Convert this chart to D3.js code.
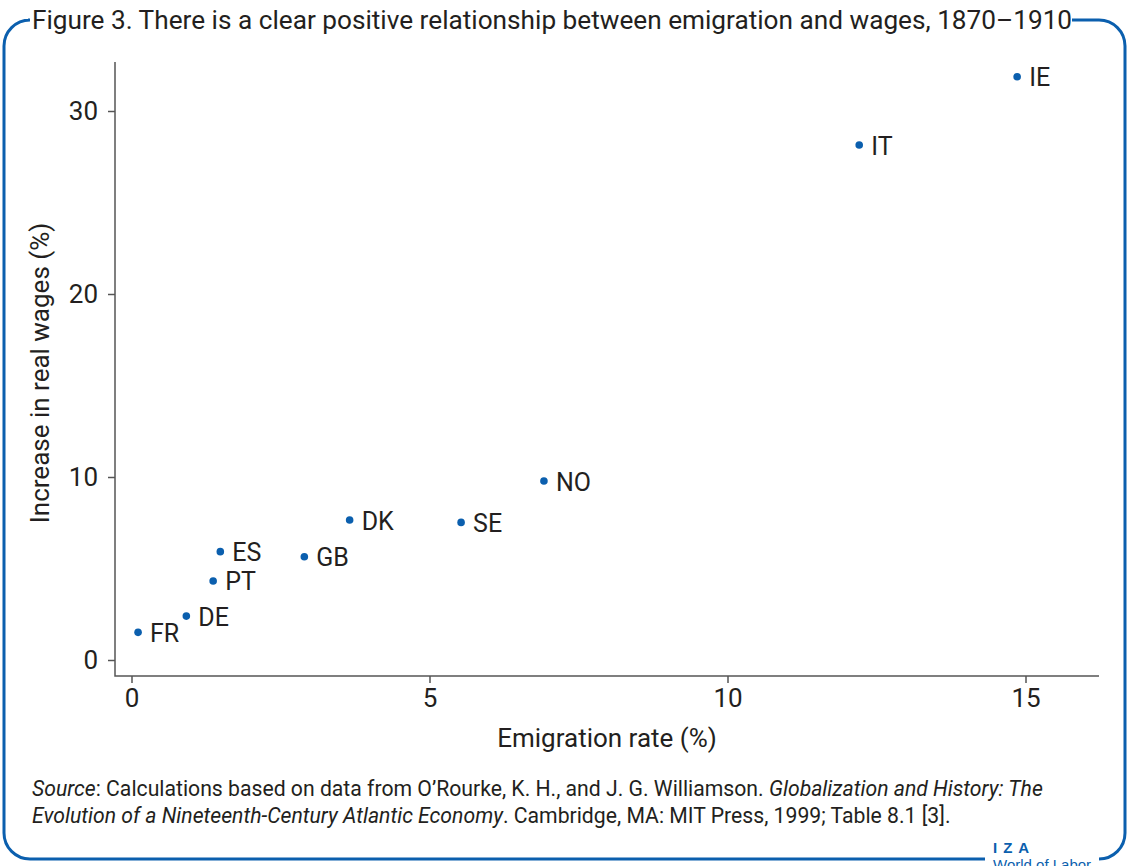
<!DOCTYPE html>
<html>
<head>
<meta charset="utf-8">
<script src="https://cdn.jsdelivr.net/npm/d3@7"></script>
<style>
  body { margin: 0; background: #fff; }
  text { font-family: "Roboto", sans-serif; fill: #231f20; }
</style>
</head>
<body>
<script>
// data
var countries = ["FR", "DE", "PT", "ES", "GB", "DK", "SE", "NO", "IT", "IE"];
var emigration = [0.11, 0.92, 1.37, 1.49, 2.90, 3.66, 5.53, 6.92, 12.21, 14.86];
var wages = [1.51, 2.40, 4.32, 5.92, 5.64, 7.65, 7.52, 9.78, 28.14, 31.87];
var xTicks = [0, 5, 10, 15];
var yTicks = [0, 10, 20, 30];

var W = 1129, H = 866;
var blue = "#0b5fae";

var svg = d3.select("body").append("svg")
  .attr("width", W).attr("height", H);

// frame with gaps for title and logo
var r = 26, L = 4, T = 20, R = 1125, B = 859;
var frame = "M 28," + T +
  " L " + (L + r) + "," + T +
  " A " + r + "," + r + " 0 0 0 " + L + "," + (T + r) +
  " L " + L + "," + (B - r) +
  " A " + r + "," + r + " 0 0 0 " + (L + r) + "," + B +
  " L 985," + B;
var frame2 = "M 1072," + T +
  " L " + (R - r) + "," + T +
  " A " + r + "," + r + " 0 0 1 " + R + "," + (T + r) +
  " L " + R + "," + (B - r) +
  " A " + r + "," + r + " 0 0 1 " + (R - r) + "," + B +
  " L 1100," + B;
svg.append("path").attr("d", frame).attr("fill", "none").attr("stroke", blue).attr("stroke-width", 3);
svg.append("path").attr("d", frame2).attr("fill", "none").attr("stroke", blue).attr("stroke-width", 3);

svg.append("text")
  .attr("x", 32).attr("y", 29)
  .attr("font-size", 26.2)
  .text("Figure 3. There is a clear positive relationship between emigration and wages, 1870\u20131910");

// scales
var x = d3.scaleLinear().domain([0, 15]).range([131.5, 1025.5]);
var y = d3.scaleLinear().domain([0, 30]).range([660, 111]);
var x0 = 115, y0 = 676, x1 = 1099, yTop = 62;

var chart = svg.append("g");

var xAxis = chart.append("g")
  .attr("transform", "translate(0," + y0 + ")")
  .call(d3.axisBottom(x).tickValues(xTicks).tickSize(7).tickPadding(6));
var yAxis = chart.append("g")
  .attr("transform", "translate(" + x0 + ",0)")
  .call(d3.axisLeft(y).tickValues(yTicks).tickSize(7).tickPadding(10));

[xAxis, yAxis].forEach(function(a) {
  a.select(".domain").remove();
  a.selectAll("line").attr("stroke", "#555").attr("stroke-width", 1.5);
  a.selectAll("text").attr("font-size", 26).style("font-family", "Roboto, sans-serif").attr("fill", "#231f20");
});

chart.append("path")
  .attr("d", "M" + x0 + "," + yTop + " L" + x0 + "," + y0 + " L" + x1 + "," + y0)
  .attr("fill", "none").attr("stroke", "#555").attr("stroke-width", 1.5);

// points
var pts = countries.map(function(c, i) {
  return { name: c, ex: emigration[i], wg: wages[i] };
});

chart.selectAll("circle.pt")
  .data(pts).enter().append("circle")
  .attr("class", "pt")
  .attr("cx", function(d) { return x(d.ex); })
  .attr("cy", function(d) { return y(d.wg); })
  .attr("r", 3.8)
  .attr("fill", blue);

chart.selectAll("text.lbl")
  .data(pts).enter().append("text")
  .attr("class", "lbl")
  .attr("x", function(d) { return x(d.ex) + 12; })
  .attr("y", function(d) { return y(d.wg) + 9.5; })
  .attr("font-size", 25)
  .text(function(d) { return d.name; });

// axis titles
svg.append("text")
  .attr("x", (x0 + x1) / 2).attr("y", 747)
  .attr("text-anchor", "middle")
  .attr("font-size", 26)
  .text("Emigration rate (%)");

svg.append("text")
  .attr("transform", "translate(49,373) rotate(-90)")
  .attr("text-anchor", "middle")
  .attr("font-size", 26)
  .text("Increase in real wages (%)");

// source note
var src = svg.append("g").attr("font-size", 21.2);
var l1 = src.append("text").attr("x", 32).attr("y", 796);
l1.append("tspan").attr("font-style", "italic").text("Source");
l1.append("tspan").text(": Calculations based on data from O\u2019Rourke, K. H., and J. G. Williamson. ");
l1.append("tspan").attr("font-style", "italic").text("Globalization and History: The");
var l2 = src.append("text").attr("x", 32).attr("y", 823);
l2.append("tspan").attr("font-style", "italic").text("Evolution of a Nineteenth-Century Atlantic Economy");
l2.append("tspan").text(". Cambridge, MA: MIT Press, 1999; Table 8.1 [3].");

// logo
svg.append("text")
  .attr("x", 993).attr("y", 853)
  .attr("font-size", 15).attr("font-weight", "bold")
  .style("fill", blue).style("font-family", "Liberation Sans, sans-serif")
  .attr("letter-spacing", 6)
  .text("IZA");
svg.append("text")
  .attr("x", 993).attr("y", 870)
  .attr("font-size", 15)
  .style("fill", blue).style("font-family", "Liberation Sans, sans-serif")
  .text("World of Labor");
</script>
</body>
</html>
